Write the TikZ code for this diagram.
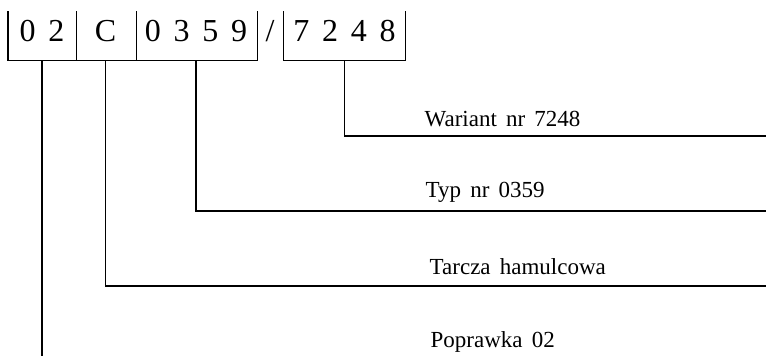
\documentclass[tikz,border=0pt]{standalone}
\usepackage{fontspec}
\setmainfont{Liberation Serif}
\newfontfamily\digitfont[WordSpace=1.9]{Liberation Serif}
\newfontfamily\labelfont[WordSpace=1.6]{Liberation Serif}
\begin{document}
\begin{tikzpicture}
[x=0.5pt,y=-0.5pt,line width=0.7pt,
 grp/.style={inner sep=0pt,text height=15pt,text depth=9pt,font=\digitfont\fontsize{16}{16}\selectfont},
 lbl/.style={anchor=base west,inner sep=0pt,font=\labelfont\fontsize{11.5}{11.5}\selectfont}]
\useasboundingbox (0,0) rectangle (766,356);
\path (42,36) node (g02) [grp,minimum width=33.5pt] {0 2}
(105.5,36) node (gC) [grp,minimum width=30pt] {C}
(196,36) node (g0359) [grp,minimum width=60.5pt] {0 3 5 9}
(270,36) node (slash) [grp] {/}
(344.5,36) node (g7248) [grp,minimum width=60.5pt] {7 2 4 8};
\path (424,127) node (wariant) [lbl] {Wariant nr 7248}
(425,198) node (typ) [lbl] {Typ nr 0359}
(429,275) node (tarcza) [lbl] {Tarcza hamulcowa}
(430,348) node (poprawka) [lbl] {Poprawka 02};
\coordinate (wend) at (766,136);
\coordinate (tend) at (766,211);
\coordinate (hend) at (766,286);
\coordinate (pend) at (42,356);
\draw (g02.north west) -- (g02.south west) -- (g0359.south east) -- (g0359.north east);
\draw (g02.north east) -- (g02.south east) (gC.north east) -- (gC.south east);
\draw (g7248.north west) |- (g7248.south east) -- (g7248.north east);
\draw (g7248.south) |- (wend);
\draw (g0359.south) |- (tend);
\draw (gC.south) |- (hend);
\draw (g02.south) -- (pend);
\end{tikzpicture}
\end{document}
